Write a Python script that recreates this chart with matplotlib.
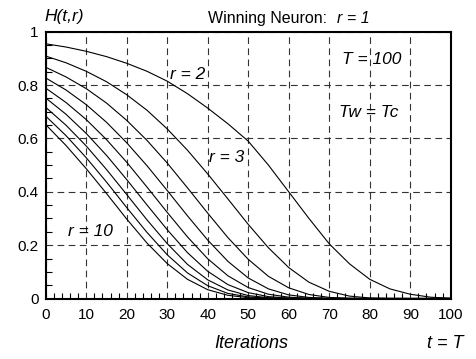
import matplotlib
matplotlib.use("Agg")
import matplotlib.pyplot as plt
from matplotlib.ticker import MultipleLocator

plt.rcParams['font.family'] = ['Liberation Sans', 'DejaVu Sans']

t = [0, 5, 10, 15, 20, 25, 30, 35, 40, 45, 50, 55, 60, 65, 70, 75, 80, 85, 90, 95, 100]

h_r2 = [0.955, 0.943, 0.927, 0.907, 0.882, 0.852, 0.815, 0.768, 0.714, 0.655, 0.590, 0.500, 0.400, 0.300, 0.205, 0.130, 0.072, 0.036, 0.016, 0.005, 0.001]
h_r3 = [0.909, 0.884, 0.852, 0.813, 0.764, 0.706, 0.636, 0.556, 0.467, 0.373, 0.278, 0.190, 0.116, 0.061, 0.027, 0.009, 0.002, 0.0004, 0.0, 0.0, 0.0]
h_r4 = [0.867, 0.831, 0.787, 0.733, 0.668, 0.593, 0.508, 0.415, 0.320, 0.228, 0.147, 0.083, 0.040, 0.015, 0.004, 0.001, 0.0, 0.0, 0.0, 0.0, 0.0]
h_r5 = [0.827, 0.782, 0.727, 0.661, 0.584, 0.498, 0.405, 0.310, 0.219, 0.139, 0.077, 0.036, 0.0135, 0.004, 0.0007, 0.0, 0.0, 0.0, 0.0, 0.0, 0.0]
h_r6 = [0.789, 0.735, 0.671, 0.596, 0.511, 0.418, 0.323, 0.231, 0.149, 0.085, 0.041, 0.016, 0.005, 0.001, 0.0, 0.0, 0.0, 0.0, 0.0, 0.0, 0.0]
h_r7 = [0.752, 0.691, 0.619, 0.537, 0.446, 0.351, 0.258, 0.172, 0.102, 0.052, 0.022, 0.007, 0.0016, 0.0002, 0.0, 0.0, 0.0, 0.0, 0.0, 0.0, 0.0]
h_r8 = [0.717, 0.650, 0.572, 0.484, 0.390, 0.295, 0.206, 0.128, 0.070, 0.032, 0.011, 0.003, 0.0005, 0.0, 0.0, 0.0, 0.0, 0.0, 0.0, 0.0, 0.0]
h_r9 = [0.684, 0.611, 0.528, 0.437, 0.341, 0.248, 0.164, 0.096, 0.048, 0.019, 0.006, 0.0013, 0.0002, 0.0, 0.0, 0.0, 0.0, 0.0, 0.0, 0.0, 0.0]
h_r10 = [0.652, 0.574, 0.487, 0.394, 0.298, 0.208, 0.131, 0.072, 0.033, 0.012, 0.003, 0.0006, 0.0, 0.0, 0.0, 0.0, 0.0, 0.0, 0.0, 0.0, 0.0]

curves = [h_r2, h_r3, h_r4, h_r5, h_r6, h_r7, h_r8, h_r9, h_r10]

x_ticks = [0, 10, 20, 30, 40, 50, 60, 70, 80, 90, 100]
x_tick_labels = ['0', '10', '20', '30', '40', '50', '60', '70', '80', '90', '100']
y_ticks = [0, 0.2, 0.4, 0.6, 0.8, 1.0]
y_tick_labels = ['0', '0.2', '0.4', '0.6', '0.8', '1']

fig = plt.figure(figsize=(4.77, 3.59), dpi=100)
ax = fig.add_axes([0.0958, 0.1685, 0.945 - 0.0958, 0.9114 - 0.1685])

for h in curves:
    ax.plot(t, h, color='black', lw=0.8)

ax.set_xlim(0, 100)
ax.set_ylim(0, 1)
ax.set_xticks(x_ticks)
ax.set_xticklabels(x_tick_labels)
ax.set_yticks(y_ticks)
ax.set_yticklabels(y_tick_labels)
ax.xaxis.set_minor_locator(MultipleLocator(2))
ax.yaxis.set_minor_locator(MultipleLocator(0.05))
ax.tick_params(which='both', direction='in', top=False, right=False, labelsize=11, colors='black')
ax.tick_params(which='major', length=0)
ax.tick_params(axis='x', which='major', pad=7)
ax.tick_params(axis='y', which='major', pad=5)
ax.tick_params(which='minor', length=4, width=0.8)
ax.grid(True, which='major', color='#333333', linestyle=(0, (6, 4)), lw=0.8)
for s in ax.spines.values():
    s.set_linewidth(1.5)

fig.text(0.094, 0.941, 'H(t,r)', fontsize=12.5, style='italic', ha='left', va='baseline')
fig.text(0.436, 0.936, 'Winning Neuron:', fontsize=11.5, ha='left', va='baseline')
fig.text(0.706, 0.936, 'r = 1', fontsize=11.5, style='italic', ha='left', va='baseline')
ax.text(73.2, 0.895, 'T = 100', fontsize=12.5, style='italic', ha='left', va='center')
ax.text(72.5, 0.698, 'Tw = Tc', fontsize=12.5, style='italic', ha='left', va='center')
ax.text(30.8, 0.84, 'r = 2', fontsize=12.5, style='italic', ha='left', va='center')
ax.text(40.2, 0.53, 'r = 3', fontsize=12.5, style='italic', ha='left', va='center')
ax.text(5.5, 0.25, 'r = 10', fontsize=12.5, style='italic', ha='left', va='center')
fig.text(0.526, 0.031, 'Iterations', fontsize=13, style='italic', ha='center', va='baseline')
fig.text(0.933, 0.031, 't = T', fontsize=13, style='italic', ha='center', va='baseline')

fig.savefig('out.png', dpi=100)
